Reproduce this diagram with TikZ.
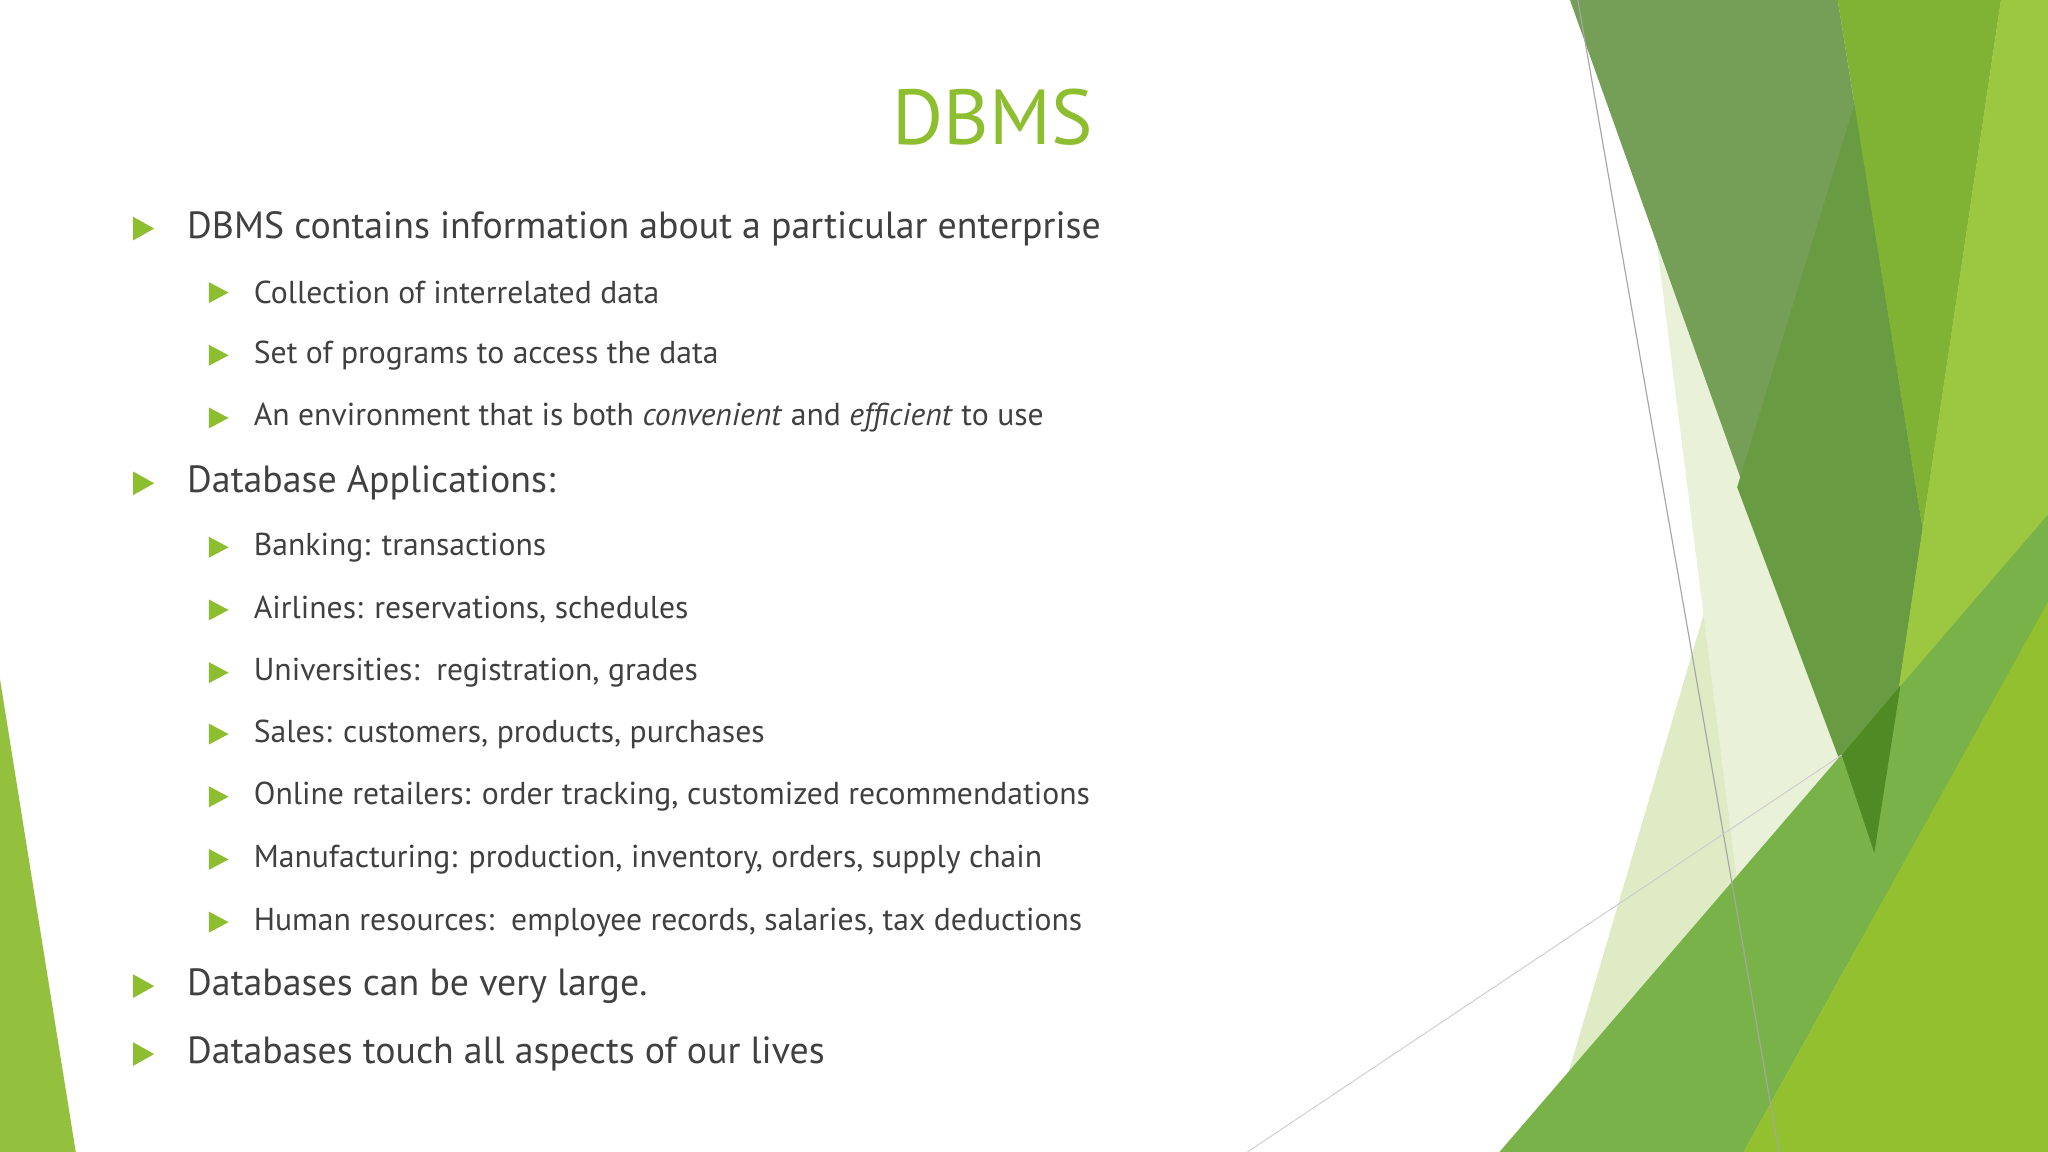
\documentclass[tikz,border=0pt]{standalone}
\usepackage{fontspec}
\setmainfont{PT Sans}
\definecolor{txt}{HTML}{404040}
\definecolor{ttl}{HTML}{8DBE2F}
\definecolor{bul}{HTML}{8DBE2F}
\begin{document}
\begin{tikzpicture}[x=0.02cm,y=-0.02cm,
  lone/.style={anchor=west,text=txt,font=\fontsize{16.5}{18}\selectfont,inner sep=0},
  ltwo/.style={anchor=west,text=txt,font=\fontsize{13.8}{16}\selectfont,inner sep=0}]
\useasboundingbox (0,0) rectangle (1568,882);
\fill[white] (0,0) rectangle (1568,882);
% decorative shapes
\fill[color={rgb,255:red,222;green,235;blue,196}] (1443,0) -- (1568,0) -- (1568,882) -- (1183,882) -- cycle;
\fill[color={rgb,255:red,233;green,241;blue,216}] (1245,0) -- (1420,0) -- (1440,882) -- (1356,882) -- cycle;
\fill[color={rgb,255:red,117;green,158;blue,87}] (1202,0) -- (1407,0) -- (1472,405) -- (1435,653) -- cycle;
\fill[color={rgb,255:red,105;green,155;blue,66}] (1420,79) -- (1472,405) -- (1435,653) -- (1330,373) -- cycle;
\fill[color={rgb,255:red,128;green,179;blue,51}] (1407,0) -- (1532,0) -- (1472,405) -- cycle;
\fill[color={rgb,255:red,156;green,199;blue,65}] (1532,0) -- (1568,0) -- (1568,882) -- (1401,882) -- cycle;
\fill[color={rgb,255:red,122;green,178;blue,74}] (1148,882) -- (1568,394) -- (1568,461) -- (1335,882) -- cycle;
\fill[color={rgb,255:red,80;green,138;blue,36}] (1410,578) -- (1455,525) -- (1435,653) -- cycle;
\fill[color={rgb,255:red,146;green,192;blue,46}] (1335,882) -- (1568,461) -- (1568,882) -- cycle;
\fill[color={rgb,255:red,147;green,193;blue,61}] (0,520) -- (58,882) -- (0,882) -- cycle;
\draw[gray!70,line width=0.5pt] (1208,0) -- (1362,882);
\draw[gray!40,line width=0.4pt] (955,882) -- (1410,578);
% title
\node[text=ttl,font=\fontsize{34}{38}\selectfont,inner sep=0] (title) at (760,90) {DBMS};
% bullets
\foreach \y/\lev in {175/1,370/1,755/1,807/1,224/2,272/2,320/2,419/2,467/2,515/2,562/2,610/2,658/2,706/2}{
  \ifnum\lev=1 \fill[bul] (102,\y-9) -- (118,\y) -- (102,\y+9) -- cycle;
  \else \fill[bul] (160,\y-8) -- (175,\y) -- (160,\y+8) -- cycle; \fi
}
\node[lone] (a) at (143,175) {DBMS contains information about a particular enterprise};
\node[ltwo] (a1) at (194,224) {Collection of interrelated data};
\node[ltwo] (a2) at (194,272) {Set of programs to access the data};
\node[ltwo] (a3) at (194,320) {An environment that is both \textit{convenient} and \textit{efficient} to use};
\node[lone] (b) at (143,370) {Database Applications:};
\node[ltwo] (b1) at (194,419) {Banking: transactions};
\node[ltwo] (b2) at (194,467) {Airlines: reservations, schedules};
\node[ltwo] (b3) at (194,515) {Universities:\ \ registration, grades};
\node[ltwo] (b4) at (194,562) {Sales: customers, products, purchases};
\node[ltwo] (b5) at (194,610) {Online retailers: order tracking, customized recommendations};
\node[ltwo] (b6) at (194,658) {Manufacturing: production, inventory, orders, supply chain};
\node[ltwo] (b7) at (194,706) {Human resources:\ \ employee records, salaries, tax deductions};
\node[lone] (c) at (143,755) {Databases can be very large.};
\node[lone] (d) at (143,807) {Databases touch all aspects of our lives};
\end{tikzpicture}
\end{document}
